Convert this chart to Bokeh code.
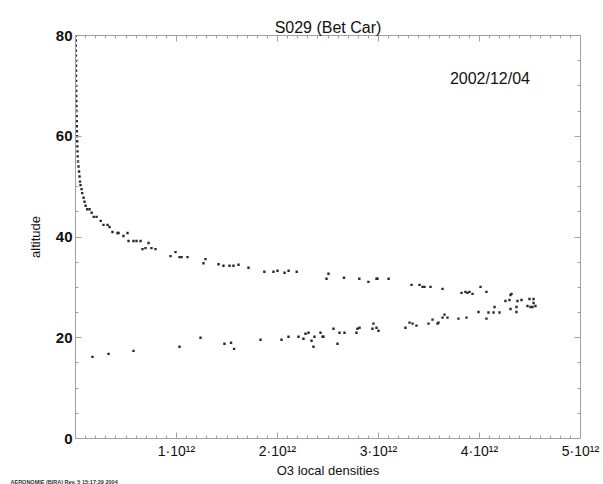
from bokeh.plotting import figure
from bokeh.models import LinearAxis, FixedTicker, Label, Title
from bokeh.embed import file_html
from bokeh.resources import INLINE

# ---- data (altitude in km, O3 local density in units of 1e12) ----
upper_alt = [80.0, 79.0, 78.0, 77.0, 76.0, 75.0, 74.0, 73.0, 72.0, 71.0,
             70.0, 69.0, 68.0, 67.0, 66.0, 65.0, 64.0, 63.0, 62.0, 61.0,
             60.0, 59.0, 58.0, 57.0, 56.0, 55.0, 54.0, 53.0, 52.0, 51.0,
             50.3, 49.5, 48.7, 47.8, 47.0, 46.2, 45.5, 45.5, 44.8, 44.0,
             44.0, 43.2, 42.4, 42.4, 42.0, 41.0, 40.8, 40.8, 40.2, 40.8,
             39.2, 39.2, 39.2, 39.2, 37.6, 37.8, 38.8, 37.8, 37.6, 36.2,
             37.0, 36.0, 36.0, 36.0, 34.8, 35.6, 34.6, 34.3, 34.3, 34.3,
             34.5, 33.9, 33.1, 33.1, 33.3, 32.9, 33.3, 33.1, 31.7, 32.7,
             31.9, 31.7, 31.1, 31.7, 31.7, 31.7, 30.5, 30.5, 30.1, 30.1,
             30.1, 29.7, 28.9, 29.1, 28.9, 29.1, 28.7, 30.1, 29.1, 27.3,
             28.5, 28.7, 27.5, 27.3, 27.5, 27.7, 27.7, 26.9, 26.3, 26.1,
             26.1, 26.3]
upper_dens = [0.003, 0.003, 0.003, 0.004, 0.004, 0.004, 0.005, 0.005, 0.005, 0.006,
              0.006, 0.007, 0.007, 0.008, 0.009, 0.010, 0.011, 0.012, 0.013, 0.014,
              0.015, 0.017, 0.018, 0.020, 0.022, 0.025, 0.030, 0.035, 0.040, 0.045,
              0.050, 0.060, 0.066, 0.080, 0.089, 0.100, 0.116, 0.139, 0.160, 0.180,
              0.208, 0.250, 0.277, 0.317, 0.337, 0.366, 0.416, 0.426, 0.475, 0.515,
              0.525, 0.574, 0.604, 0.644, 0.663, 0.693, 0.723, 0.752, 0.792, 0.941,
              0.990, 1.030, 1.050, 1.109, 1.267, 1.287, 1.416, 1.465, 1.525, 1.564,
              1.614, 1.713, 1.870, 1.960, 2.000, 2.070, 2.110, 2.190, 2.485, 2.505,
              2.658, 2.810, 2.900, 2.980, 2.990, 3.100, 3.327, 3.406, 3.436, 3.455,
              3.515, 3.634, 3.822, 3.861, 3.881, 3.901, 3.931, 4.010, 4.069, 4.257,
              4.307, 4.317, 4.297, 4.376, 4.416, 4.495, 4.535, 4.535, 4.475, 4.505,
              4.525, 4.554]

lower_alt = [16.2, 16.8, 17.4, 18.2, 20.0, 18.8, 19.0, 17.8, 19.6, 19.6,
             20.2, 20.2, 19.8, 20.8, 21.0, 19.4, 18.2, 20.2, 21.0, 20.2,
             20.2, 21.8, 18.8, 21.0, 21.0, 21.0, 21.8, 22.0, 22.8, 21.8,
             22.0, 21.4, 22.0, 23.0, 22.8, 22.4, 22.8, 23.6, 22.8, 23.0,
             24.0, 24.6, 24.0, 23.8, 24.0, 25.1, 23.8, 25.0, 25.0, 26.1,
             25.0, 25.7, 26.1, 25.1]
lower_dens = [0.168, 0.327, 0.574, 1.030, 1.238, 1.475, 1.540, 1.570, 1.832, 2.040,
              2.109, 2.208, 2.257, 2.277, 2.307, 2.337, 2.356, 2.366, 2.426, 2.446,
              2.455, 2.554, 2.594, 2.614, 2.663, 2.782, 2.792, 2.812, 2.950, 2.940,
              2.980, 3.000, 3.267, 3.307, 3.337, 3.376, 3.495, 3.535, 3.584, 3.594,
              3.634, 3.653, 3.683, 3.792, 3.871, 3.990, 4.069, 4.089, 4.139, 4.149,
              4.198, 4.307, 4.366, 4.366]

x_ticks = [1, 2, 3, 4, 5]
x_tick_labels = ["1·10¹²", "2·10¹²", "3·10¹²", "4·10¹²", "5·10¹²"]
x_minor = [i / 10 for i in range(0, 51) if i % 10 != 0]
y_ticks = [0, 20, 40, 60, 80]
y_minor = [v for v in range(0, 81, 5) if v % 20 != 0]

title_text = "S029 (Bet Car)"
date_text = "2002/12/04"
footer_text = "AERONOMIE (BIRA) Rev. 5 15:17:29 2004"

FONT = "Liberation Sans"
AXIS_GREY = "#a0a0a0"

p = figure(width=603, height=484, x_range=(0, 5), y_range=(0, 80),
           output_backend="svg", toolbar_location=None,
           min_border_left=75, min_border_right=23, min_border_top=35,
           min_border_bottom=45, background_fill_color="white",
           border_fill_color="white", outline_line_color=AXIS_GREY)
p.xgrid.visible = False
p.ygrid.visible = False

p.title.text = title_text
p.title.align = "center"
p.title.text_font = FONT
p.title.text_font_size = "16px"
p.title.text_font_style = "normal"
p.title.text_color = "#111111"
p.title.standoff = 0

xt = FixedTicker(ticks=x_ticks, minor_ticks=x_minor)
yt = FixedTicker(ticks=y_ticks, minor_ticks=y_minor)

xa = p.xaxis[0]
xa.ticker = xt
xa.major_label_overrides = dict(zip(x_ticks, x_tick_labels))
xa.axis_label = "O3 local densities"
xa.axis_label_text_font = FONT
xa.axis_label_text_font_size = "13px"
xa.axis_label_text_font_style = "normal"
xa.axis_label_standoff = 1
xa.major_label_text_font = FONT
xa.major_label_text_font_size = "14px"
xa.major_label_standoff = 4

ya = p.yaxis[0]
ya.ticker = yt
ya.axis_label = "altitude"
ya.axis_label_text_font = FONT
ya.axis_label_text_font_size = "13px"
ya.axis_label_text_font_style = "normal"
ya.axis_label_standoff = 10
ya.major_label_text_font = FONT
ya.major_label_text_font_size = "15px"
ya.major_label_text_font_style = "bold"
ya.major_label_standoff = 3

for ax in (xa, ya):
    ax.axis_line_color = AXIS_GREY
    ax.major_tick_line_color = AXIS_GREY
    ax.minor_tick_line_color = AXIS_GREY
    ax.major_tick_in = 6
    ax.major_tick_out = 0
    ax.minor_tick_in = 3
    ax.minor_tick_out = 0
    ax.major_label_text_color = "#111111"
    ax.axis_label_text_color = "#111111"

top = LinearAxis(ticker=FixedTicker(ticks=x_ticks, minor_ticks=x_minor))
right = LinearAxis(ticker=FixedTicker(ticks=y_ticks, minor_ticks=y_minor))
for ax in (top, right):
    ax.axis_line_color = AXIS_GREY
    ax.major_tick_line_color = AXIS_GREY
    ax.minor_tick_line_color = AXIS_GREY
    ax.major_tick_in = 6
    ax.major_tick_out = 0
    ax.minor_tick_in = 3
    ax.minor_tick_out = 0
    ax.major_label_text_color = None
    ax.major_label_text_font_size = "0px"
    ax.major_label_standoff = 0
p.add_layout(top, "above")
p.add_layout(right, "right")

p.scatter(upper_dens, upper_alt, marker="square", size=2.4,
          fill_color="#2a2a2a", line_color=None)
p.scatter(lower_dens, lower_alt, marker="square", size=2.4,
          fill_color="#2a2a2a", line_color=None)

p.add_layout(Label(x=4.5, y=71.5, text=date_text, text_align="right",
                   text_baseline="middle", text_font=FONT,
                   text_font_size="16px", text_color="#111111"))
p.add_layout(Title(text=footer_text, align="left", offset=-65, standoff=-4,
                   vertical_align="top",
                   text_font=FONT, text_font_size="5.5px",
                   text_font_style="bold", text_color="#333333"), "below")

open("out.html", "w").write(file_html(p, INLINE))
